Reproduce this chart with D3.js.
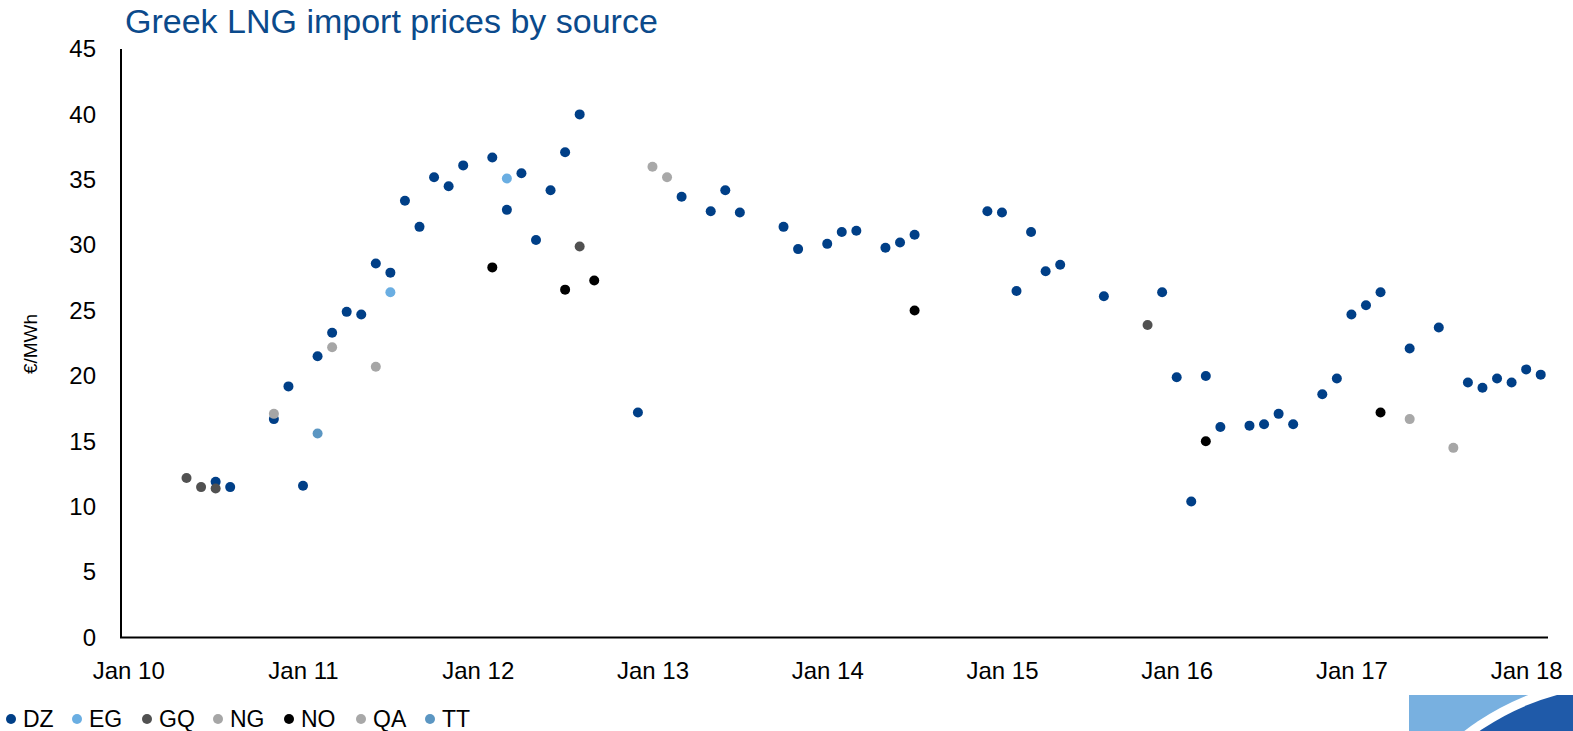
<!DOCTYPE html>
<html>
<head>
<meta charset="utf-8">
<script src="https://cdn.jsdelivr.net/npm/d3@7"></script>
<style>
  body { margin: 0; background: #fff; }
  svg { display: block; font-family: "Liberation Sans", Arial, sans-serif; }
</style>
</head>
<body>
<div id="chart"></div>
<script>
// monthly prices, €/MWh
var dzMonths = ["2010-07","2010-08","2010-11","2010-12","2011-01","2011-02","2011-03","2011-04","2011-05","2011-06",
  "2011-07","2011-08","2011-09","2011-10","2011-11","2011-12","2012-02","2012-03","2012-04","2012-05",
  "2012-06","2012-07","2012-08","2012-12","2013-03","2013-05","2013-06","2013-07","2013-10","2013-11",
  "2014-01","2014-02","2014-03","2014-05","2014-06","2014-07","2014-12","2015-01","2015-02","2015-03",
  "2015-04","2015-05","2015-08","2015-12","2016-01","2016-02","2016-03","2016-04","2016-06","2016-07",
  "2016-08","2016-09","2016-11","2016-12","2017-01","2017-02","2017-03","2017-05","2017-07","2017-09",
  "2017-10","2017-11","2017-12","2018-01","2018-02"];
var dzValues = [11.9,11.5,16.7,19.2,11.6,21.5,23.3,24.9,24.7,28.6,
  27.9,33.4,31.4,35.2,34.5,36.1,36.7,32.7,35.5,30.4,
  34.2,37.1,40.0,17.2,33.7,32.6,34.2,32.5,31.4,29.7,
  30.1,31.0,31.1,29.8,30.2,30.8,32.6,32.5,26.5,31.0,
  28.0,28.5,26.1,26.4,19.9,10.4,20.0,16.1,16.2,16.3,
  17.1,16.3,18.6,19.8,24.7,25.4,26.4,22.1,23.7,19.5,
  19.1,19.8,19.5,20.5,20.1];

var egMonths = ["2011-07","2012-03"];
var egValues = [26.4,35.1];

var gqMonths = ["2010-05","2010-06","2010-07","2012-08","2015-11"];
var gqValues = [12.2,11.5,11.4,29.9,23.9];

var ngMonths = ["2010-11","2011-03","2011-06","2017-08"];
var ngValues = [17.1,22.2,20.7,14.5];

var noMonths = ["2012-02","2012-07","2012-09","2014-07","2016-03","2017-03"];
var noValues = [28.3,26.6,27.3,25.0,15.0,17.2];

var qaMonths = ["2013-01","2013-02","2017-05"];
var qaValues = [36.0,35.2,16.7];

var ttMonths = ["2011-02"];
var ttValues = [15.6];

var seriesNames = ["DZ","EG","GQ","NG","NO","QA","TT"];
var seriesColors = ["#003f87","#6aaee2","#515151","#a6a6a6","#000000","#a8a8a8","#5b96c2"];

var xTickLabels = ["Jan 10","Jan 11","Jan 12","Jan 13","Jan 14","Jan 15","Jan 16","Jan 17","Jan 18"];
var yTicks = [0,5,10,15,20,25,30,35,40,45];

var allMonths = [dzMonths, egMonths, gqMonths, ngMonths, noMonths, qaMonths, ttMonths];
var allValues = [dzValues, egValues, gqValues, ngValues, noValues, qaValues, ttValues];

var W = 1573, H = 731;
var parseMonth = d3.timeParse("%Y-%m");
var start = parseMonth("2010-01");
function monthIndex(s) { return d3.timeMonth.count(start, parseMonth(s)); }

var x = d3.scaleLinear().domain([-0.5, 97.5]).range([121, 1548]);
var y = d3.scaleLinear().domain([0, 45]).range([637.5, 49]);

var svg = d3.select("#chart").append("svg")
  .attr("width", W)
  .attr("height", H);

// title
svg.append("text")
  .attr("x", 125)
  .attr("y", 33)
  .attr("fill", "#0b4a8b")
  .style("font-size", "34px")
  .text("Greek LNG import prices by source");

// y axis title
svg.append("text")
  .attr("transform", "translate(37,344) rotate(-90)")
  .attr("text-anchor", "middle")
  .style("font-size", "19px")
  .attr("fill", "#000")
  .text("€/MWh");

// axes without tick marks
var yAxis = d3.axisLeft(y).tickValues(yTicks).tickSize(0).tickPadding(25);
var gy = svg.append("g").attr("transform", "translate(121,0)").call(yAxis);
gy.select(".domain").remove();
gy.selectAll("text").style("font-size", "24px").attr("fill", "#000").attr("font-family", null);

var xTickVals = xTickLabels.map(function (d, i) { return i * 12; });
var xAxis = d3.axisBottom(x).tickValues(xTickVals).tickSize(0).tickPadding(24)
  .tickFormat(function (d, i) { return xTickLabels[i]; });
var gx = svg.append("g").attr("transform", "translate(0,637.5)").call(xAxis);
gx.select(".domain").remove();
gx.selectAll("text").style("font-size", "24px").attr("fill", "#000").attr("font-family", null);

svg.append("line")
  .attr("x1", 121).attr("x2", 121)
  .attr("y1", y(45)).attr("y2", y(0))
  .attr("stroke", "#000").attr("stroke-width", 2);
svg.append("line")
  .attr("x1", 120).attr("x2", 1548)
  .attr("y1", y(0)).attr("y2", y(0))
  .attr("stroke", "#000").attr("stroke-width", 2);

// points, DZ first so the other sources sit on top
seriesNames.forEach(function (name, i) {
  var pts = allMonths[i].map(function (m, j) {
    return { m: monthIndex(m), v: allValues[i][j] };
  });
  svg.append("g").selectAll("circle")
    .data(pts)
    .enter()
    .append("circle")
    .attr("cx", function (d) { return x(d.m); })
    .attr("cy", function (d) { return y(d.v); })
    .attr("r", 5)
    .attr("fill", seriesColors[i]);
});

// legend
var legendX = [11, 77, 147, 218, 289, 361, 430];
var legend = svg.append("g").selectAll("g")
  .data(seriesNames)
  .enter()
  .append("g")
  .attr("transform", function (d, i) { return "translate(" + legendX[i] + ",719)"; });
legend.append("circle").attr("r", 5).attr("fill", function (d, i) { return seriesColors[i]; });
legend.append("text")
  .attr("x", 12)
  .attr("y", 8)
  .style("font-size", "23px")
  .attr("fill", "#000")
  .text(function (d) { return d; });

// logo corner
svg.append("clipPath").attr("id", "logoclip")
  .append("rect").attr("x", 1409).attr("y", 695).attr("width", 164).attr("height", 36);
var logo = svg.append("g").attr("clip-path", "url(#logoclip)");
logo.append("rect").attr("x", 1409).attr("y", 695).attr("width", 164).attr("height", 36).attr("fill", "#78b0e0");
logo.append("circle").attr("cx", 1624).attr("cy", 940).attr("r", 263).attr("fill", "#fff");
logo.append("circle").attr("cx", 1624).attr("cy", 940).attr("r", 254).attr("fill", "#1f5aa9");
</script>
</body>
</html>
